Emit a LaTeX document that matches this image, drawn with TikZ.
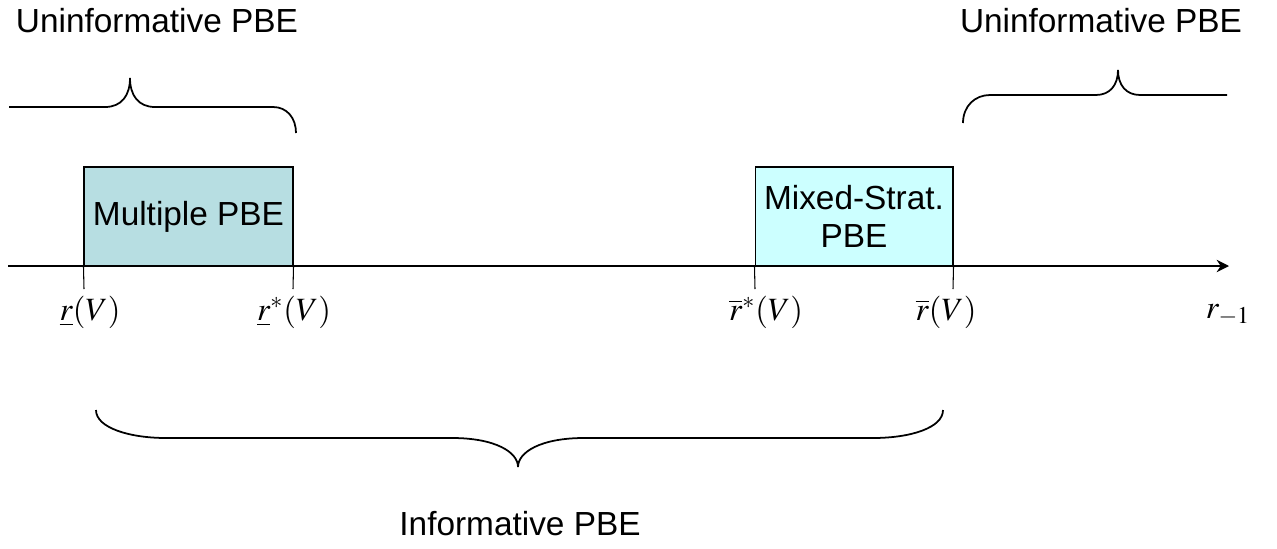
\documentclass[tikz,border=0pt]{standalone}
\usepackage{mathptmx}
\usepackage{fontspec}
\setmainfont{Liberation Sans}
\usetikzlibrary{positioning, arrows.meta}

\definecolor{multifill}{RGB}{183,222,226}
\definecolor{mixedfill}{RGB}{204,255,255}

\begin{document}
\begin{tikzpicture}[x=0.02cm, y=-0.02cm, >={Stealth[length=7pt, width=7pt]}]
    \tikzstyle{region} = [draw, line width=0.6pt, inner sep=0pt, align=center, minimum height=1.98cm, font=\fontsize{19}{22}\selectfont]
    \tikzstyle{brace} = [draw, line width=1pt]
    \tikzstyle{tick} = [draw, line width=0.6pt]
    \tikzstyle{caption} = [font=\fontsize{19}{22}\selectfont]
    \tikzstyle{point} = [font=\fontsize{18.5}{22}\selectfont]

    \useasboundingbox (0,0) rectangle (1277,548);

    % regions on the axis
    \node[region, fill=multifill, minimum width=4.18cm] (multi) at (188.5,216.5) {Multiple PBE};
    \node[region, fill=mixedfill, minimum width=3.96cm] (mixed) at (854,216.5) {Mixed-Strat.\\PBE};

    % axis
    \coordinate (start) at (8,266);
    \coordinate (end) at (1229,266);
    \draw[->, line width=1.4pt] (start) -- (end);

    % ticks
    \coordinate (t1) at (84,289);
    \coordinate (t2) at (293,289);
    \coordinate (t3) at (755,289);
    \coordinate (t4) at (953,289);
    \path[tick]
        (multi.south west) -- (t1)
        (multi.south east) -- (t2)
        (mixed.south west) -- (t3)
        (mixed.south east) -- (t4);

    % tick labels
    \node[point] (lo) at (90,312) {$\underline{r}(V)$};
    \node[point] (lostar) at (294,312) {$\underline{r}^{*}(V)$};
    \node[point] (histar) at (766,312) {$\overline{r}^{*}(V)$};
    \node[point] (hi) at (946,312) {$\overline{r}(V)$};
    \node[point] (axislabel) at (1228,315) {$r_{-1}$};

    % braces
    \draw[brace] (9,107) -- (105,107) .. controls (122,107) and (130,95) .. (130,78)
        .. controls (130,95) and (138,107) .. (155,107) -- (273,107)
        .. controls (287,107) and (296,118) .. (296,133);
    \draw[brace] (963,123) .. controls (963,106) and (975,95) .. (990,95) -- (1096,95)
        .. controls (1110,95) and (1118,85) .. (1118,70)
        .. controls (1118,85) and (1126,95) .. (1140,95) -- (1227,95);
    \draw[brace] (96,410) .. controls (96,428) and (130,438) .. (166,438) -- (452,438)
        .. controls (495,438) and (518,452) .. (518,467)
        .. controls (518,452) and (541,438) .. (584,438) -- (873,438)
        .. controls (910,438) and (943,428) .. (943,410);

    % captions
    \node[caption] (uninfleft) at (157,21) {Uninformative PBE};
    \node[caption] (uninfright) at (1101,21) {Uninformative PBE};
    \node[caption] (inf) at (520,524) {Informative PBE};
\end{tikzpicture}
\end{document}
